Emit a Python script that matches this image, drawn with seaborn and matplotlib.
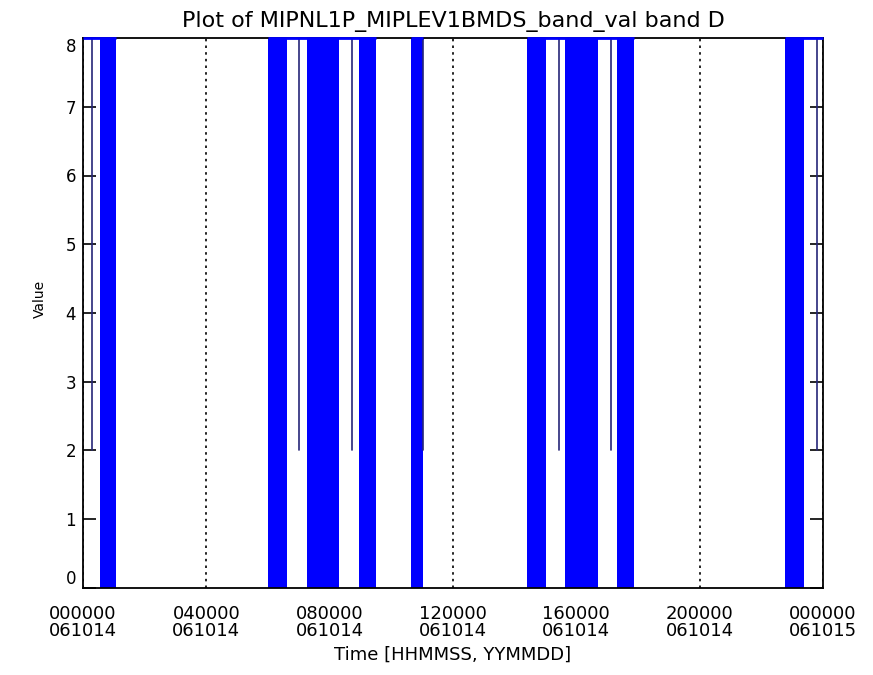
# Recreating the MIPAS band_val time plot (band D) with seaborn + matplotlib
import pandas as pd
import matplotlib
matplotlib.use("Agg")
import matplotlib.pyplot as plt
import seaborn as sns

# time axis in hours since 2006-10-14 00:00:00
band_start = [0.55, 6.00, 7.27, 8.95, 10.64, 14.40, 15.63, 17.32, 22.77]
band_end = [1.07, 6.62, 8.30, 9.50, 11.03, 15.02, 16.70, 17.87, 23.38]
band_low = 0
band_high = 8

# single dips of the value from 8 down to 2
spike_times = [0.29, 7.00, 8.72, 11.03, 15.44, 17.13, 23.81]
spike_high = [8, 8, 8, 8, 8, 8, 8]
spike_low = [2, 2, 2, 2, 2, 2, 2]

# stretches where the trace runs along the top value
run_start = [0.0, 6.00, 10.64, 14.40, 22.77]
run_end = [1.07, 9.50, 11.03, 17.87, 24.0]

tick_hours = [0, 4, 8, 12, 16, 20, 24]
tick_labels = ["000000\n061014", "040000\n061014", "080000\n061014",
               "120000\n061014", "160000\n061014", "200000\n061014",
               "000000\n061015"]
y_ticks = [0, 1, 2, 3, 4, 5, 6, 7, 8]

sns.set_style("ticks")
plt.rcParams["font.family"] = ["DejaVu Sans"]
plt.rcParams["text.color"] = "black"
plt.rcParams["axes.labelcolor"] = "black"
plt.rcParams["xtick.color"] = "black"
plt.rcParams["ytick.color"] = "black"

fig = plt.figure(figsize=(8.73, 6.75), dpi=100)
ax = fig.add_axes([0.0951, 0.1289, 0.8476, 0.8148])

blue = "#0000ff"
thin = "#262678"

for s, e in zip(band_start, band_end):
    ax.fill_between([s, e], band_low, band_high, color=blue, lw=0, zorder=2)

spikes = pd.DataFrame({
    "time": [t for t in spike_times for _ in range(2)],
    "value": [v for pair in zip(spike_high, spike_low) for v in pair],
    "spike": [i for i in range(len(spike_times)) for _ in range(2)],
})
sns.lineplot(data=spikes, x="time", y="value", units="spike", estimator=None,
             color=thin, lw=1.2, ax=ax, zorder=2, legend=False)

ax.hlines([band_high] * len(run_start), run_start, run_end, color=blue,
          lw=2, zorder=3, clip_on=False)

ax.set_xlim(0, 24)
ax.set_ylim(0, 8)
ax.set_xticks(tick_hours)
ax.set_xticklabels(tick_labels, fontsize=13, linespacing=0.95)
ax.set_yticks(y_ticks)
ax.set_yticklabels([str(v) for v in y_ticks], fontsize=12)
ylabs = ax.get_yticklabels()
ylabs[0].set_va("bottom")
ylabs[-1].set_va("top")

ax.grid(axis="x", color="black", linestyle=(0, (1.5, 2.5)), lw=1.2, zorder=1)
ax.set_axisbelow(True)
ax.tick_params(axis="x", length=0, pad=12)
ax.tick_params(axis="y", direction="in", length=9.5, width=1.2,
               left=True, right=True, pad=5)
for sp in ax.spines.values():
    sp.set_visible(True)
    sp.set_linewidth(1.3)
    sp.set_color("black")

ax.set_xlabel("Time [HHMMSS, YYMMDD]", fontsize=13, labelpad=4)
ax.set_ylabel("Value", fontsize=10)
ax.yaxis.set_label_coords(-0.049, 0.525)
ax.set_title("Plot of MIPNL1P_MIPLEV1BMDS_band_val band D", fontsize=16, pad=8)

plt.savefig("out.png", dpi=100)
